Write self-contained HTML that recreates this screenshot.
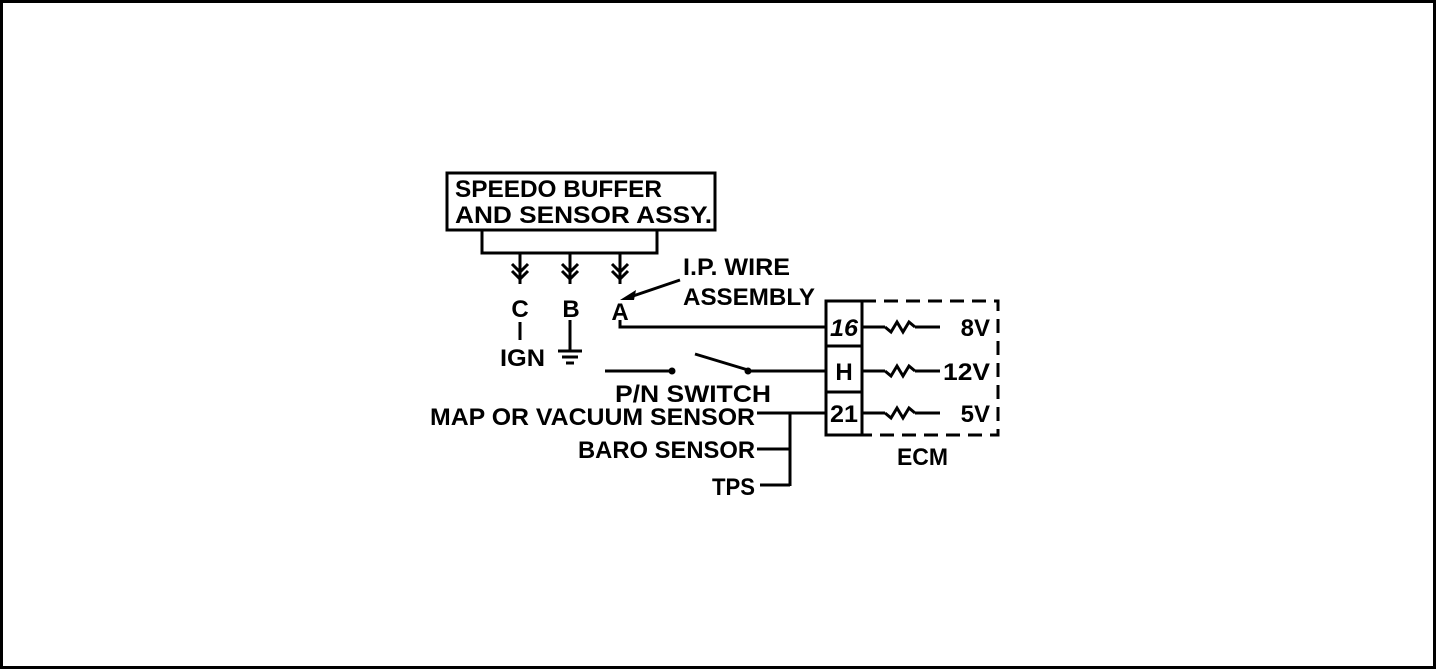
<!DOCTYPE html>
<html><head><style>
html,body{margin:0;padding:0;background:#fff;}
svg{display:block;}
text{font-family:"Liberation Sans",sans-serif;font-size:24px;font-weight:bold;fill:#000;}
</style></head><body>
<svg width="1440" height="672" viewBox="0 0 1440 672" xmlns="http://www.w3.org/2000/svg">
<rect x="1.5" y="1.5" width="1433" height="666" fill="#fff" stroke="#000" stroke-width="3"/>
<g stroke="#000" stroke-width="3" fill="none">
<rect x="447" y="173" width="268" height="57"/>
<polyline points="482,230 482,253 657,253 657,230"/>
<line x1="520" y1="253" x2="520" y2="284"/>
<line x1="570" y1="253" x2="570" y2="284"/>
<line x1="620" y1="253" x2="620" y2="284"/>
<polyline points="512,264 520,272 528,264"/><polyline points="512,271 520,279 528,271"/>
<polyline points="562,264 570,272 578,264"/><polyline points="562,271 570,279 578,271"/>
<polyline points="612,264 620,272 628,264"/><polyline points="612,271 620,279 628,271"/>
<line x1="520" y1="322" x2="520" y2="340"/>
<line x1="570" y1="320" x2="570" y2="350"/>
<line x1="558" y1="351" x2="582" y2="351"/>
<line x1="562" y1="357" x2="578" y2="357"/>
<line x1="566" y1="363" x2="574" y2="363"/>
<polyline points="620,320 620,327 826,327"/>
<line x1="680" y1="280" x2="630" y2="297"/>
<line x1="605" y1="371" x2="672" y2="371"/>
<line x1="695" y1="354" x2="748" y2="370"/>
<line x1="748" y1="371" x2="826" y2="371"/>
<line x1="757" y1="413" x2="826" y2="413"/>
<line x1="790" y1="413" x2="790" y2="486"/>
<line x1="757" y1="449" x2="790" y2="449"/>
<line x1="760" y1="485" x2="790" y2="485"/>
<rect x="826" y="301" width="36" height="134"/>
<line x1="826" y1="346" x2="862" y2="346"/>
<line x1="826" y1="392" x2="862" y2="392"/>
<polyline points="862,301 998,301 998,435 862,435" stroke-dasharray="14,8"/>
<line x1="862" y1="327" x2="885" y2="327"/><polyline points="885,327 891,332 897,322 903,332 909,322 915,327"/><line x1="915" y1="327" x2="940" y2="327"/>
<line x1="862" y1="371" x2="885" y2="371"/><polyline points="885,371 891,376 897,366 903,376 909,366 915,371"/><line x1="915" y1="371" x2="940" y2="371"/>
<line x1="862" y1="413" x2="885" y2="413"/><polyline points="885,413 891,418 897,408 903,418 909,408 915,413"/><line x1="915" y1="413" x2="940" y2="413"/>
</g>
<polygon points="620,300 636,290 634,300" fill="#000"/>
<circle cx="672" cy="371" r="3.5" fill="#000"/>
<circle cx="748" cy="371" r="3.5" fill="#000"/>
<text x="455" y="197" textLength="207" lengthAdjust="spacingAndGlyphs">SPEEDO BUFFER</text>
<text x="455" y="223" textLength="257" lengthAdjust="spacingAndGlyphs">AND SENSOR ASSY.</text>
<text x="520" y="317" text-anchor="middle">C</text>
<text x="571" y="317" text-anchor="middle">B</text>
<text x="620" y="320" text-anchor="middle">A</text>
<text x="500" y="366" textLength="45" lengthAdjust="spacingAndGlyphs">IGN</text>
<text x="683" y="275" textLength="107" lengthAdjust="spacingAndGlyphs">I.P. WIRE</text>
<text x="683" y="305" textLength="132" lengthAdjust="spacingAndGlyphs">ASSEMBLY</text>
<text x="615" y="402" textLength="156" lengthAdjust="spacingAndGlyphs">P/N SWITCH</text>
<text x="430" y="425" textLength="325" lengthAdjust="spacingAndGlyphs">MAP OR VACUUM SENSOR</text>
<text x="578" y="458" textLength="177" lengthAdjust="spacingAndGlyphs">BARO SENSOR</text>
<text x="712" y="495" textLength="43" lengthAdjust="spacingAndGlyphs">TPS</text>
<text x="844" y="336" text-anchor="middle" font-style="italic" textLength="28" lengthAdjust="spacingAndGlyphs">16</text>
<text x="844" y="380" text-anchor="middle">H</text>
<text x="844" y="422" text-anchor="middle" textLength="28" lengthAdjust="spacingAndGlyphs">21</text>
<text x="990" y="336" text-anchor="end">8V</text>
<text x="990" y="380" text-anchor="end" textLength="47" lengthAdjust="spacingAndGlyphs">12V</text>
<text x="990" y="422" text-anchor="end">5V</text>
<text x="897" y="465" textLength="51" lengthAdjust="spacingAndGlyphs">ECM</text>
</svg>
</body></html>
